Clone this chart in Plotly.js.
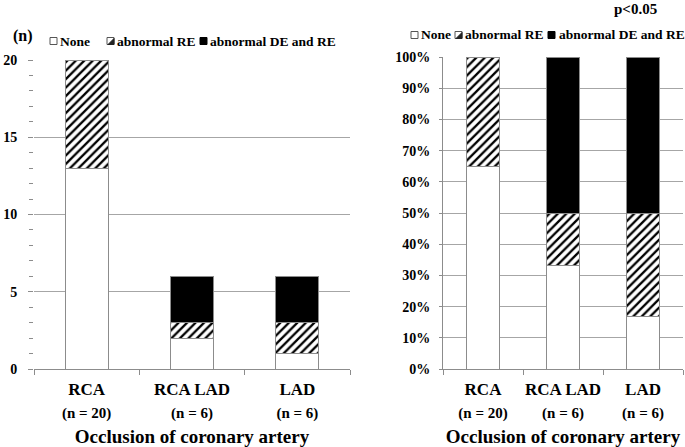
<!DOCTYPE html>
<html>
<head>
<meta charset="utf-8">
<script src="https://cdn.plot.ly/plotly-3.0.1.min.js"></script>
<style>html,body{margin:0;padding:0;background:#fff;}#chart{width:685px;height:447px;}</style>
</head>
<body>
<div id="chart"></div>
<script>
// ---- data ----
const categories = ['RCA', 'RCA LAD', 'LAD'];
const nLabels = ['(n = 20)', '(n = 6)', '(n = 6)'];
const seriesNames = ['None', 'abnormal RE', 'abnormal DE and RE'];
const countNone = [13, 2, 1];
const countRE = [7, 1, 2];
const countDE = [0, 3, 3];
const pctNone = [65, 33.3, 16.7];
const pctRE = [35, 16.7, 33.3];
const pctDE = [0, 50, 50];
const yTicksCount = [0, 5, 10, 15, 20];
const yTicksPct = [0, 10, 20, 30, 40, 50, 60, 70, 80, 90, 100];

// ---- helpers ----
const W = 685, H = 447;
const px = x => x / W;
const py = y => 1 - y / H;
const FONT = '"Liberation Serif", "Times New Roman", serif';
const GRAY = '#8c8c8c';

const xLabels = categories.map((c, i) =>
  c + '<br><span style="font-size:15px">' + nLabels[i] + '</span>');

const styles = [
  {color: '#ffffff', line: {color: GRAY, width: 1}},
  {color: '#ffffff', line: {color: GRAY, width: 1},
   pattern: {shape: '/', fgcolor: '#000000', bgcolor: '#ffffff', size: 6, solidity: 0.38, fillmode: 'replace'}},
  {color: '#000000', line: {color: GRAY, width: 1}}
];

function traces(vals, xa, ya) {
  return vals.map((v, k) => ({
    type: 'bar', x: xLabels, y: v, name: seriesNames[k],
    xaxis: xa, yaxis: ya, width: 0.41,
    marker: styles[k], showlegend: false, hoverinfo: 'skip'
  }));
}

const data = [
  ...traces([countNone, countRE, countDE], 'x', 'y'),
  ...traces([pctNone, pctRE, pctDE], 'x2', 'y2')
];

const xaxisCommon = {
  type: 'category', showgrid: false, showline: true, linecolor: GRAY, linewidth: 1,
  ticks: 'outside', tickson: 'boundaries', ticklen: 5, tickcolor: GRAY,
  tickangle: 0, ticklabelstandoff: 5,
  tickfont: {size: 17, family: FONT, color: '#000', weight: 'bold'},
  title: {text: 'Occlusion of coronary artery', font: {size: 19, family: FONT, color: '#000', weight: 'bold'}, standoff: 9},
  fixedrange: true, zeroline: false
};

const layout = {
  width: W, height: H,
  margin: {l: 0, r: 0, t: 0, b: 0},
  paper_bgcolor: '#fff', plot_bgcolor: '#fff',
  font: {family: FONT, color: '#000', weight: 'bold'},
  barmode: 'stack', bargap: 0.59, showlegend: false,
  xaxis: Object.assign({}, xaxisCommon, {domain: [px(34), px(350)], anchor: 'y'}),
  xaxis2: Object.assign({}, xaxisCommon, {domain: [px(443), px(683)], anchor: 'y2'}),
  yaxis: {
    domain: [py(369), py(60)], range: [0, 20], anchor: 'x',
    tickmode: 'array', tickvals: yTicksCount, ticktext: yTicksCount.map(String),
    showline: false, showgrid: true, gridcolor: '#a6a6a6', gridwidth: 1, zeroline: false,
    ticks: 'outside', ticklen: 5, tickcolor: GRAY, ticklabelstandoff: 8,
    minor: {dtick: 1, ticks: 'outside', ticklen: 4, tickcolor: GRAY, showgrid: false},
    tickfont: {size: 14, family: FONT, color: '#000', weight: 'bold'}, fixedrange: true
  },
  yaxis2: {
    domain: [py(369), py(57)], range: [0, 100], anchor: 'x2',
    tickmode: 'array', tickvals: yTicksPct, ticktext: yTicksPct.map(v => v + '%'),
    showline: true, linecolor: GRAY, linewidth: 1,
    showgrid: true, gridcolor: '#a6a6a6', gridwidth: 1, zeroline: false,
    ticks: 'outside', ticklen: 3, tickcolor: GRAY, ticklabelstandoff: 6,
    tickfont: {size: 14, family: FONT, color: '#000', weight: 'bold'}, fixedrange: true
  },
  annotations: [],
  shapes: []
};

// ---- annotations ----
function txt(text, x, y, size, anchor) {
  layout.annotations.push({
    text: text, xref: 'paper', yref: 'paper', x: px(x), y: py(y),
    xanchor: anchor || 'left', yanchor: 'middle', showarrow: false,
    font: {size: size, family: FONT, color: '#000', weight: 'bold'}
  });
}
txt('(n)', 11, 36, 16);
txt('p<0.05', 612, 9, 15);

// ---- custom legends ----
function legendSymbol(kind, x, y) {
  const s = 7;
  const x0 = px(x), x1 = px(x + s), y0 = py(y - s / 2), y1 = py(y + s / 2);
  if (kind === 0) {
    layout.shapes.push({type: 'rect', xref: 'paper', yref: 'paper', x0: x0, x1: x1, y0: y0, y1: y1,
      fillcolor: '#fff', line: {color: '#555', width: 1}});
  } else if (kind === 1) {
    layout.shapes.push({type: 'rect', xref: 'paper', yref: 'paper', x0: x0, x1: x1, y0: y0, y1: y1,
      fillcolor: '#fff', line: {color: '#555', width: 1}});
    layout.shapes.push({type: 'path', xref: 'paper', yref: 'paper',
      path: `M ${px(x + 1)},${py(y + s / 2)} L ${px(x + s)},${py(y - s / 2 + 1)} L ${px(x + s)},${py(y + s / 2)} Z`,
      fillcolor: '#222', line: {color: '#222', width: 1}});
  } else {
    layout.shapes.push({type: 'rect', xref: 'paper', yref: 'paper', x0: x0, x1: x1, y0: y0, y1: y1,
      fillcolor: '#000', line: {color: '#000', width: 1}});
  }
}
const leftLegend = {sym: [50, 107, 200], txt: [58, 115, 208], y: 41};
const rightLegend = {sym: [411, 455, 548], txt: [419, 463, 557], y: 35};
[leftLegend, rightLegend].forEach(L => {
  seriesNames.forEach((n, k) => {
    legendSymbol(k, L.sym[k], L.y);
    txt(n, L.txt[k], L.y, 13.5);
  });
});

Plotly.newPlot('chart', data, layout, {staticPlot: true, displayModeBar: false});
</script>
</body>
</html>
